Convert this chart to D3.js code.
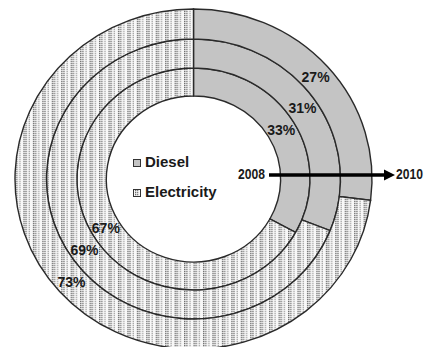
<!DOCTYPE html>
<html>
<head>
<meta charset="utf-8">
<script src="https://cdn.jsdelivr.net/npm/d3@7"></script>
<style>
  html, body { margin: 0; padding: 0; background: #fff; }
  svg { display: block; }
  text { font-family: "Liberation Sans", Arial, sans-serif; font-weight: bold; fill: #1a1a1a; }
</style>
</head>
<body>
<svg id="chart" width="427" height="347"></svg>
<script>
// Energy share by year, innermost ring first
const years = ["2008", "2009", "2010"];
const sources = ["Diesel", "Electricity"];
const diesel = [33, 31, 27];
const electricity = [67, 69, 73];

const W = 427, H = 347;
const cx = 193.5, cy = 179, sx = 1.05;
const ringEdges = [83, 111, 140, 170];

const svg = d3.select("#chart");
const defs = svg.append("defs");

// dotted fill for electricity
const pat = defs.append("pattern")
  .attr("id", "dots").attr("patternUnits", "userSpaceOnUse")
  .attr("width", 9).attr("height", 4);
pat.append("rect").attr("width", 9).attr("height", 4).attr("fill", "#f8f8f8");
[[0, "#6e6e6e"], [2, "#808080"], [5, "#a8a8a8"]].forEach(([x, c]) => {
  pat.append("rect").attr("x", x).attr("y", 0).attr("width", 1.3).attr("height", 1.3).attr("fill", c);
  pat.append("rect").attr("x", x).attr("y", 2).attr("width", 1.3).attr("height", 1.3).attr("fill", c);
});

const color = d3.scaleOrdinal().domain(sources).range(["#c4c4c4", "url(#dots)"]);

const pie = d3.pie().sort(null).value(d => d.value);

const g = svg.append("g").attr("transform", `translate(${cx},${cy}) scale(${sx},1)`);

years.forEach((yr, i) => {
  const data = [
    { key: sources[0], value: diesel[i] },
    { key: sources[1], value: electricity[i] }
  ];
  const arc = d3.arc().innerRadius(ringEdges[i]).outerRadius(ringEdges[i + 1]);
  const arcs = pie(data);

  g.selectAll(null).data(arcs).enter().append("path")
    .attr("d", arc)
    .attr("fill", d => color(d.data.key))
    .attr("stroke", "#2a2a2a")
    .attr("stroke-width", 1.4)
    .attr("vector-effect", "non-scaling-stroke");

  svg.selectAll(null).data(arcs).enter().append("text")
    .attr("x", d => cx + arc.centroid(d)[0] * sx)
    .attr("y", d => cy + arc.centroid(d)[1])
    .attr("dy", "0.36em")
    .attr("text-anchor", "middle")
    .attr("font-size", 14)
    .text(d => d.data.value + "%");
});

// legend in the hole
const legend = svg.append("g");
sources.forEach((s, i) => {
  const y = 159 + i * 30;
  legend.append("rect")
    .attr("x", 133.5).attr("y", y + 0.5).attr("width", 7).attr("height", 7)
    .attr("fill", color(s)).attr("stroke", "#333").attr("stroke-width", 1);
  legend.append("text")
    .attr("x", 145).attr("y", y + 8)
    .attr("font-size", 15)
    .text(s);
});

// year direction arrow
svg.append("line")
  .attr("x1", 269).attr("x2", 386).attr("y1", 175).attr("y2", 175)
  .attr("stroke", "#000").attr("stroke-width", 3.5);
svg.append("path")
  .attr("d", "M384,169.5 L395,175 L384,180.5 Z")
  .attr("fill", "#000");
svg.append("text")
  .attr("x", 238).attr("y", 178.5)
  .attr("font-size", 14).attr("textLength", 27).attr("lengthAdjust", "spacingAndGlyphs")
  .text(years[0]);
svg.append("text")
  .attr("x", 396).attr("y", 178.5)
  .attr("font-size", 14).attr("textLength", 27).attr("lengthAdjust", "spacingAndGlyphs")
  .text(years[years.length - 1]);
</script>
</body>
</html>
